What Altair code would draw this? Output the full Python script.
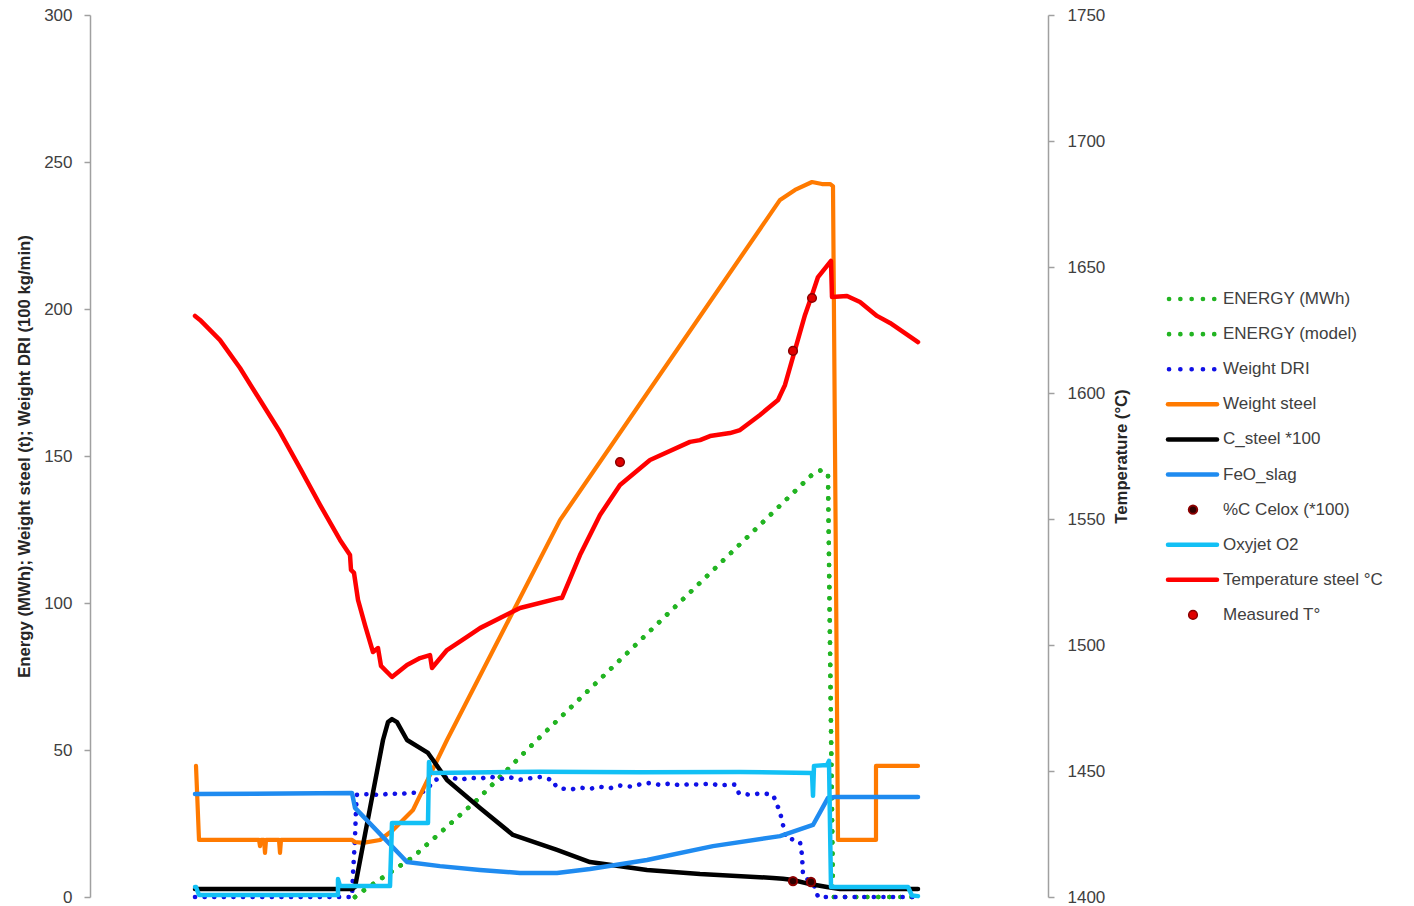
import altair as alt
import pandas as pd

FONT = "Liberation Sans"
TEXT = "#404040"
AXIS = "#a0a0a0"

# ---- series (time in minutes) ----
energy_t = [26.5, 27.0, 32.3, 38.7, 44.7, 72.5, 73.2, 73.8, 74.3, 82.8]
energy_v = [0.0, 1.4, 13.6, 33.0, 53.4, 144.6, 145.2, 143.9, 0.0, 0.0]

energy_model_t = [26.5, 27.0, 32.3, 38.7, 44.7, 72.5, 73.2, 73.8, 74.3, 82.8]
energy_model_v = [0.0, 1.4, 13.6, 33.0, 53.4, 144.6, 145.2, 143.9, 0.0, 0.0]

dri_t = [10.5, 26.2, 26.3, 26.5, 26.6, 26.7, 28.0, 29.0, 30.0, 31.0, 32.0, 33.0, 33.8, 34.3,
         35.0, 36.0, 37.0, 38.0, 39.0, 40.0, 41.0, 42.0, 43.0, 44.0, 45.0, 46.0, 46.3, 46.6,
         47.0, 48.0, 49.0, 50.0, 51.0, 52.0, 53.0, 54.0, 55.0, 56.0, 57.0, 58.0, 59.0, 60.0,
         61.0, 62.0, 63.0, 64.0, 64.5, 64.9, 66.0, 67.0, 68.0, 68.3, 68.6, 69.0, 69.3, 69.6,
         70.5, 71.0, 71.2, 71.3, 71.8, 72.5, 72.8, 82.8]
dri_v = [0.0, 0.0, 8.0, 20.0, 30.0, 34.8, 35.0, 34.6, 35.3, 34.9, 35.6, 35.2, 36.8, 39.6,
         40.3, 40.9, 39.8, 40.6, 40.2, 41.0, 40.1, 40.7, 39.9, 40.4, 40.8, 40.0, 39.8, 37.6,
         37.0, 36.5, 37.2, 36.8, 37.5, 37.0, 37.9, 37.6, 38.3, 38.8, 38.1, 38.6, 38.0, 38.4,
         38.2, 38.6, 37.9, 38.3, 38.2, 35.2, 34.8, 35.2, 35.0, 34.7, 32.3, 28.9, 24.5, 20.1,
         19.4, 18.7, 14.3, 7.5, 5.8, 3.4, 0.0, 0.0]

steel_t = [10.6, 10.9, 16.9, 17.0, 17.1, 17.4, 17.5, 17.6, 18.9, 19.0, 19.1, 26.2, 26.5,
           27.3, 29.0, 30.3, 32.3, 35.7, 47.0, 69.0, 70.5, 72.2, 73.2, 74.0, 74.3, 74.8,
           78.6, 78.6, 82.8]
steel_v = [44.6, 19.4, 19.4, 17.3, 19.4, 19.4, 15.0, 19.4, 19.4, 15.0, 19.4, 19.4, 18.7,
           18.4, 19.4, 22.8, 29.6, 53.4, 128.2, 237.1, 240.5, 243.2, 242.5, 242.5, 241.8,
           19.4, 19.4, 44.6, 44.6]

csteel_t = [10.5, 26.2, 26.5, 29.3, 29.8, 30.2, 30.7, 31.7, 33.8, 35.7, 39.0, 42.3, 46.7,
            50.0, 55.7, 61.0, 68.3, 69.3, 70.3, 72.0, 73.7, 75.0, 82.8]
csteel_v = [2.7, 2.7, 3.4, 53.4, 59.5, 60.5, 59.5, 53.4, 49.0, 39.8, 30.3, 21.1, 16.0,
            11.9, 9.2, 7.8, 6.5, 6.2, 5.8, 4.4, 3.4, 2.7, 2.7]

feo_t = [10.5, 26.2, 26.5, 31.7, 35.0, 39.0, 43.0, 46.7, 50.0, 55.7, 62.3, 69.0, 72.3,
         73.8, 74.5, 82.8]
feo_v = [35.0, 35.4, 30.3, 11.9, 10.5, 9.2, 8.2, 8.2, 9.5, 12.6, 17.3, 20.7, 24.5,
         33.7, 34.0, 34.0]

celox_t = [70.3, 72.1]
celox_v = [5.4, 5.1]

oxy_t = [10.5, 10.6, 10.9, 24.8, 24.8, 25.0, 30.0, 30.2, 33.8, 33.9, 34.1, 45.0, 55.0,
         65.0, 72.2, 72.3, 72.4, 73.7, 73.9, 74.1, 81.8, 82.2, 82.8]
oxy_v = [3.4, 3.4, 0.7, 0.7, 6.1, 3.7, 3.7, 25.2, 25.2, 45.9, 42.2, 42.6, 42.4, 42.5,
         42.2, 34.4, 44.6, 44.9, 46.3, 3.4, 3.4, 0.5, 0.3]

temp_t = [10.5, 11.0, 13.0, 15.0, 17.0, 19.0, 21.0, 23.0, 25.0, 26.0, 26.1, 26.4, 26.8,
          27.5, 28.3, 28.8, 29.1, 30.2, 31.7, 33.0, 34.0, 34.2, 35.7, 37.7, 39.0, 43.0,
          47.0, 47.2, 49.0, 51.0, 53.0, 56.0, 60.0, 61.0, 62.0, 64.0, 65.0, 67.0, 68.8,
          69.5, 70.5, 71.5, 72.2, 72.8, 74.1, 74.2, 75.7, 77.0, 78.7, 80.0, 82.8]
temp_v = [1630.6, 1629.0, 1621.0, 1609.9, 1597.2, 1584.5, 1570.2, 1555.6, 1541.7, 1535.7,
          1529.8, 1528.6, 1517.9, 1507.9, 1497.2, 1498.8, 1491.7, 1487.3, 1492.1, 1494.8,
          1496.0, 1490.9, 1498.0, 1503.2, 1506.7, 1514.7, 1518.7, 1518.7, 1535.7, 1551.6,
          1563.5, 1573.4, 1580.6, 1581.3, 1582.9, 1584.1, 1585.3, 1591.3, 1597.2, 1603.2,
          1617.1, 1631.0, 1638.9, 1646.0, 1652.4, 1638.1, 1638.5, 1636.1, 1630.6, 1627.8,
          1620.2]

meas_t = [53.0, 70.3, 72.2]
meas_v = [1572.6, 1616.7, 1637.7]

# ---- legend entries ----
legend_names = ["ENERGY (MWh)", "ENERGY (model)", "Weight DRI", "Weight steel",
                "C_steel *100", "FeO_slag", "%C Celox (*100)", "Oxyjet O2",
                "Temperature steel °C", "Measured T°"]
dotted_names = ["ENERGY (MWh)", "ENERGY (model)", "Weight DRI"]
solid_names = ["Weight steel", "C_steel *100", "FeO_slag", "Oxyjet O2", "Temperature steel °C"]

GREEN = "#22b422"
DRI_BLUE = "#1010e6"
ORANGE = "#ff7a00"
BLACK = "#000000"
FEO_BLUE = "#1f8bf0"
OXY = "#12c0f5"
RED = "#ff0000"
legend_colors = [GREEN, GREEN, DRI_BLUE, ORANGE, BLACK, FEO_BLUE, "#300000", OXY, RED, "#e00000"]


def frame(t, v):
    return pd.DataFrame({"t": t, "v": v, "i": list(range(len(t)))})


x_enc = alt.X("t:Q", scale=alt.Scale(domain=[0, 95.8], nice=False, zero=False), axis=None)

left_axis = alt.Axis(
    orient="left", values=[0, 50, 100, 150, 200, 250, 300], grid=False,
    domainColor=AXIS, domainWidth=1.5, tickColor=AXIS, tickWidth=1.5, tickSize=6,
    labelFont=FONT, labelFontSize=17, labelColor=TEXT, labelPadding=12,
    titleFont=FONT, titleFontSize=16.7, titleFontWeight="bold", titleColor="#262626",
    titlePadding=10,
)
y_left = alt.Y("v:Q", scale=alt.Scale(domain=[0, 300], nice=False), axis=left_axis,
               title="Energy (MWh); Weight steel (t); Weight DRI (100 kg/min)")

right_axis = alt.Axis(
    orient="right", values=[1400, 1450, 1500, 1550, 1600, 1650, 1700, 1750], grid=False,
    format="d",
    domainColor=AXIS, domainWidth=1.5, tickColor=AXIS, tickWidth=1.5, tickSize=6,
    labelFont=FONT, labelFontSize=17, labelColor=TEXT, labelPadding=13,
    titleFont=FONT, titleFontSize=16.7, titleFontWeight="bold", titleColor="#262626",
    titlePadding=9, titleAngle=270, titleBaseline="top",
)
y_right = alt.Y("v:Q", scale=alt.Scale(domain=[1400, 1750], nice=False, zero=False),
                axis=right_axis, title="Temperature (°C)")

order = alt.Order("i:Q")


def solid(df, color, width=4.5):
    return alt.Chart(df).mark_line(color=color, strokeWidth=width, strokeCap="round",
                                   strokeJoin="round").encode(x=x_enc, y=y_left, order=order)


def dotted(df, color, gap=11):
    return alt.Chart(df).mark_line(color=color, strokeWidth=4.6, strokeCap="round",
                                   strokeDash=[0.1, gap]).encode(x=x_enc, y=y_left, order=order)


energy = dotted(frame(energy_t, energy_v), GREEN)
energy_model = dotted(frame(energy_model_t, energy_model_v), GREEN)
dri = dotted(frame(dri_t, dri_v), DRI_BLUE, gap=9.5)
steel = solid(frame(steel_t, steel_v), ORANGE, 4.2)
csteel = solid(frame(csteel_t, csteel_v), BLACK)
feo = solid(frame(feo_t, feo_v), FEO_BLUE)
celox = alt.Chart(frame(celox_t, celox_v)).mark_point(
    filled=True, size=70, fill="#300000", stroke="#8b0000", strokeWidth=2, opacity=1
).encode(x=x_enc, y=y_left)
oxy = solid(frame(oxy_t, oxy_v), OXY)

temp = alt.Chart(frame(temp_t, temp_v)).mark_line(
    color=RED, strokeWidth=4.5, strokeCap="round", strokeJoin="round"
).encode(x=x_enc, y=y_right, order=order)
meas = alt.Chart(frame(meas_t, meas_v)).mark_point(
    filled=True, size=75, fill="#e00000", stroke="#8b0000", strokeWidth=1.5, opacity=1
).encode(x=x_enc, y=y_right)

left_group = alt.layer(energy, energy_model, dri, steel, csteel, feo, celox, oxy)
right_group = alt.layer(temp, meas)
main = alt.layer(left_group, right_group).resolve_scale(y="independent").properties(
    width=958, height=882)

# ---- legend panel ----
leg_df = pd.DataFrame({"name": legend_names})
leg_y = alt.Y("name:N", sort=legend_names, axis=None,
              scale=alt.Scale(domain=legend_names, range=[266.5, 617.5]))
leg_color = alt.Color("name:N", legend=None,
                      scale=alt.Scale(domain=legend_names, range=legend_colors))
base = alt.Chart(leg_df)
leg_dots = base.transform_filter(alt.FieldOneOfPredicate(field="name", oneOf=dotted_names)).mark_rule(
    strokeWidth=4.6, strokeCap="round", strokeDash=[0.1, 11.2]
).encode(x=alt.value(4), x2=alt.value(50), y=leg_y, color=leg_color)
leg_lines = base.transform_filter(alt.FieldOneOfPredicate(field="name", oneOf=solid_names)).mark_rule(
    strokeWidth=4.5, strokeCap="round"
).encode(x=alt.value(3), x2=alt.value(52), y=leg_y, color=leg_color)
leg_celox = base.transform_filter(alt.datum.name == "%C Celox (*100)").mark_point(
    filled=True, size=70, fill="#300000", stroke="#8b0000", strokeWidth=2, opacity=1
).encode(x=alt.value(28), y=leg_y)
leg_meas = base.transform_filter(alt.datum.name == "Measured T°").mark_point(
    filled=True, size=75, fill="#e00000", stroke="#8b0000", strokeWidth=1.5, opacity=1
).encode(x=alt.value(28), y=leg_y)
leg_text = base.mark_text(align="left", baseline="middle", font=FONT, fontSize=17,
                          color=TEXT).encode(x=alt.value(58), y=leg_y, text="name:N")
legend = alt.layer(leg_dots, leg_lines, leg_celox, leg_meas, leg_text).properties(
    width=235, height=882)

chart = alt.hconcat(main, legend, spacing=34).properties(
    padding={"left": 16, "top": 6, "right": 0, "bottom": 0},
    background="white",
).configure_view(strokeWidth=0, stroke="transparent")

chart.save("out.html", embed_options={"renderer": "svg", "actions": False})
